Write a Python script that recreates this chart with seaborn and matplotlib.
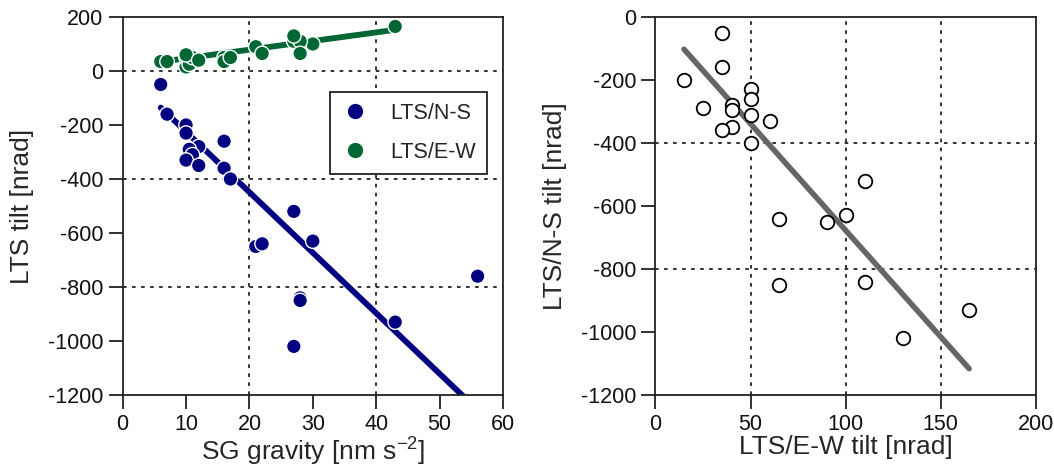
import numpy as np
import pandas as pd
import matplotlib
matplotlib.use("Agg")
import matplotlib.pyplot as plt
import seaborn as sns

# ---- data ----
gravity = [6, 7, 10, 10, 12, 16, 10.5, 10.5, 11, 10, 12, 16, 17,
           21, 22, 27, 30, 28, 28, 43, 27, 56]
tilt_ns = [-50, -160, -200, -230, -280, -260, -296, -290, -310, -330, -350, -360, -400,
           -650, -640, -520, -630, -840, -850, -930, -1020, -760]
tilt_ew = [35, 35, 15, 50, 40, 50, 40, 25, 50, 60, 40, 35, 50,
           90, 65, 110, 100, 110, 65, 165, 130, np.nan]

# fitted lines (slope, intercept)
fit_ns_grav = (-22.4, -1.0)
fit_ew_grav = (3.2, 15.0)
fit_ns_ew = (-6.76, -1.0)

series_labels = ["LTS/N-S", "LTS/E-W"]
left_xticks = [0, 10, 20, 30, 40, 50, 60]
left_yticks = [-1200, -1000, -800, -600, -400, -200, 0, 200]
right_xticks = [0, 50, 100, 150, 200]
right_yticks = [-1200, -1000, -800, -600, -400, -200, 0]

NAVY = "#000080"
GREEN = "#006633"
GREY = "#666666"

sns.set_theme(style="white")
plt.rcParams["font.family"] = ["Liberation Sans", "DejaVu Sans"]
plt.rcParams["axes.unicode_minus"] = False
plt.rcParams["mathtext.default"] = "regular"

df = pd.DataFrame({"gravity": gravity, "ns": tilt_ns, "ew": tilt_ew})
long = pd.concat([
    pd.DataFrame({"gravity": df["gravity"], "tilt": df["ns"], "comp": series_labels[0]}),
    pd.DataFrame({"gravity": df["gravity"], "tilt": df["ew"], "comp": series_labels[1]}),
]).dropna()

fig = plt.figure(figsize=(10.54, 4.67), dpi=100)
ax1 = fig.add_axes([0.1164, 0.1542, 0.3608, 0.8094])
ax2 = fig.add_axes([0.6219, 0.1542, 0.3607, 0.8094])

grid_kw = dict(color="#222222", lw=1.3, ls=(0, (2, 3)), zorder=0.5)
tick_fs = 15.5
label_fs = 19

# ---- left panel ----
for a in [20, 40]:
    ax1.axvline(a, **grid_kw)
for a in [0, -400, -800]:
    ax1.axhline(a, **grid_kw)

ns_valid = df.dropna(subset=["ns"])
xr = np.array([ns_valid["gravity"].min(), ns_valid["gravity"].max()])
sns.lineplot(x=xr, y=fit_ns_grav[0] * xr + fit_ns_grav[1], color=NAVY, lw=4.2,
             ax=ax1, legend=False, zorder=1)
ew_valid = df.dropna(subset=["ew"])
xr = np.array([ew_valid["gravity"].min(), ew_valid["gravity"].max()])
sns.lineplot(x=xr, y=fit_ew_grav[0] * xr + fit_ew_grav[1], color=GREEN, lw=4.2,
             ax=ax1, legend=False, zorder=1)

sns.scatterplot(data=long, x="gravity", y="tilt", hue="comp",
                palette={series_labels[0]: NAVY, series_labels[1]: GREEN},
                s=110, edgecolor="white", linewidth=1.0, ax=ax1, zorder=2)
handles, labels = ax1.get_legend_handles_labels()
leg = ax1.legend(handles, labels, loc="upper right", bbox_to_anchor=(0.957, 0.802),
                 borderaxespad=0, fontsize=tick_fs, frameon=True, fancybox=False,
                 edgecolor="#222222", framealpha=1, handlelength=1.3,
                 handletextpad=1.0, labelspacing=0.85, borderpad=0.5)
leg.get_frame().set_linewidth(1.3)
for h in leg.legend_handles:
    h.set_markersize(11)
    h.set_markeredgewidth(0)

ax1.set_xlim(0, 60)
ax1.set_ylim(-1200, 200)
ax1.set_xticks(left_xticks)
ax1.set_yticks(left_yticks)
ax1.set_xlabel("SG gravity [nm s$^{-2}$]", fontsize=label_fs, labelpad=0)
ax1.set_ylabel("LTS tilt [nrad]", fontsize=label_fs, labelpad=10)

# ---- right panel ----
for a in [50, 100, 150]:
    ax2.axvline(a, **grid_kw)
for a in [-400, -800]:
    ax2.axhline(a, **grid_kw)

xr = np.array([ew_valid["ew"].min(), ew_valid["ew"].max()])
sns.lineplot(x=xr, y=fit_ns_ew[0] * xr + fit_ns_ew[1], color=GREY, lw=4.0,
             ax=ax2, legend=False, zorder=1)
sns.scatterplot(data=ew_valid, x="ew", y="ns", s=95, facecolor="white",
                edgecolor="black", linewidth=1.3, ax=ax2, zorder=2)

ax2.set_xlim(0, 200)
ax2.set_ylim(-1200, 0)
ax2.set_xticks(right_xticks)
ax2.set_yticks(right_yticks)
ax2.set_xlabel("LTS/E-W tilt [nrad]", fontsize=label_fs, labelpad=0)
ax2.set_ylabel("LTS/N-S tilt [nrad]", fontsize=label_fs, labelpad=10)

for ax in (ax1, ax2):
    for sp in ax.spines.values():
        sp.set_visible(True)
        sp.set_color("#222222")
        sp.set_linewidth(1.3)
    ax.tick_params(axis="both", which="major", direction="out", length=10, width=1.3,
                   color="#222222", labelsize=tick_fs, labelcolor="#111111",
                   bottom=True, left=True, pad=4)

fig.savefig("out.png", dpi=100)
